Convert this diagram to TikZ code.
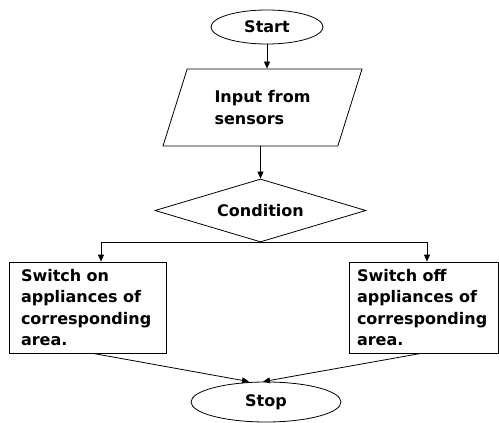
\documentclass[tikz,border=0pt]{standalone}
\usepackage{fontspec}
\setmainfont{DejaVu Sans}
\usetikzlibrary{shapes.geometric,arrows.meta}

\begin{document}
\begin{tikzpicture}[x=1pt,y=-1pt,
    font=\fontsize{16}{21.5}\selectfont\bfseries,
    every path/.style={line width=0.8pt},
    arr/.style={-{Triangle[length=7pt,width=6pt]}},
    term/.style={draw,ellipse,inner sep=0pt},
    io/.style={draw,trapezium,trapezium left angle=54.5,trapezium right angle=125.5,
      trapezium stretches body,minimum height=77pt,minimum width=199pt,
      align=left,inner sep=0pt},
    cond/.style={draw,diamond,aspect=3.35,inner sep=0pt,minimum width=211pt,minimum height=63pt},
    act/.style={draw,rectangle,text width=133pt,align=left,minimum height=91pt}]
  \useasboundingbox (0,0) rectangle (499,423);
  \node[term,minimum width=112pt,minimum height=34pt] (start) at (267,27) {Start};
  \node[io] (input) at (262.5,107.5) {Input from\\sensors};
  \node[cond] (test) at (260.5,210.5) {Condition};
  \node[act,inner xsep=12pt] (on) at (87.5,307.5)
    {Switch on\\appliances of\\corresponding\\area.};
  \node[act,inner xsep=8pt] (off) at (423.5,307.5)
    {Switch off\\appliances of\\corresponding\\area.};
  \node[term,minimum width=150pt,minimum height=40pt] (stop) at (266,402) {Stop};
  % flow
  \draw[arr] (start.south) -- (start.south |- input.north);
  \draw[arr] (test.north |- input.south) -- (test.north);
  \draw[arr] (test.south) -| ([xshift=13.5pt]on.north);
  \draw[arr] (test.south) -| ([xshift=3.5pt]off.north);
  \draw[arr] ([xshift=5.5pt]on.south) -- ([xshift=-17pt]stop.north);
  \draw[arr] ([xshift=-2.5pt]off.south) -- ([xshift=-3pt]stop.north);
\end{tikzpicture}
\end{document}
